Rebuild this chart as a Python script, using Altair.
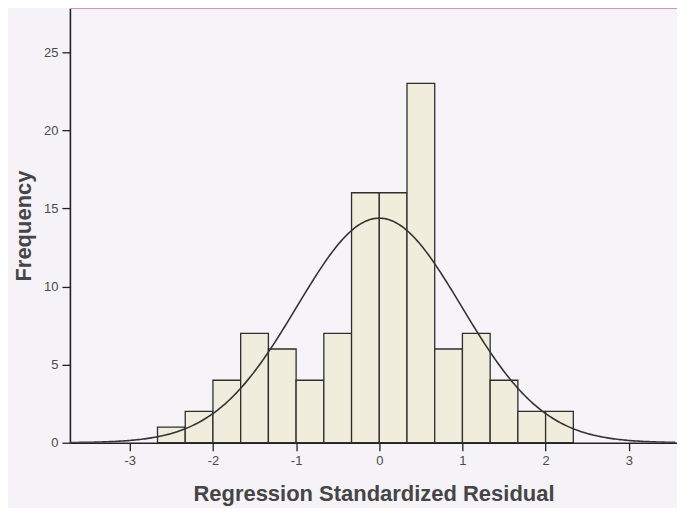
import altair as alt
import pandas as pd

# Histogram bins (width 1/3) and frequencies
bin_starts = [-8/3, -7/3, -2.0, -5/3, -4/3, -1.0, -2/3, -1/3, 0.0, 1/3, 2/3, 1.0, 4/3, 5/3, 2.0]
bin_ends   = [-7/3, -2.0, -5/3, -4/3, -1.0, -2/3, -1/3, 0.0, 1/3, 2/3, 1.0, 4/3, 5/3, 2.0, 7/3]
frequencies = [1, 2, 4, 7, 6, 4, 7, 16, 16, 23, 6, 7, 4, 2, 2]

# Normal curve parameters (as SPSS draws it)
curve_mean = 0.0
curve_sd = 0.99
curve_n = 107
bin_width = 1/3

x_ticks = [-3, -2, -1, 0, 1, 2, 3]
y_ticks = [0, 5, 10, 15, 20, 25]

X_DOMAIN = [-3.72, 3.58]
Y_DOMAIN = [0, 27.8]
W, H = 608, 435

bars_df = pd.DataFrame({"start": bin_starts, "end": bin_ends, "freq": frequencies})

FONT = "Liberation Sans"
HYPHEN_LABEL = "datum.value < 0 ? '-' + abs(datum.value) : '' + datum.value"

x_scale = alt.Scale(domain=X_DOMAIN, nice=False, zero=False)
y_scale = alt.Scale(domain=Y_DOMAIN, nice=False)

bars = alt.Chart(bars_df).mark_rect(
    fill="#f1eddd", stroke="#2e2e2e", strokeWidth=1.3
).encode(
    x=alt.X("start:Q", scale=x_scale,
            axis=alt.Axis(values=x_ticks, title="Regression Standardized Residual",
                          labelExpr=HYPHEN_LABEL,
                          grid=False, domainColor="#222", domainWidth=1.6,
                          tickColor="#222", tickSize=8, tickWidth=1.3,
                          labelColor="#4a4a4a", labelFontSize=13, labelFont=FONT,
                          labelPadding=4,
                          titleFont=FONT, titleFontSize=22, titleFontWeight="bold",
                          titleColor="#454545", titlePadding=16)),
    x2="end:Q",
    y=alt.Y("freq:Q", scale=y_scale,
            axis=alt.Axis(values=y_ticks, title="Frequency", grid=False,
                          domainColor="#222", domainWidth=1.6,
                          tickColor="#222", tickSize=8, tickWidth=1.3,
                          labelColor="#4a4a4a", labelFontSize=13, labelFont=FONT,
                          labelPadding=4,
                          titleFont=FONT, titleFontSize=22, titleFontWeight="bold",
                          titleColor="#454545", titlePadding=8)),
    y2=alt.datum(0),
)

curve = alt.Chart(alt.sequence(X_DOMAIN[0], X_DOMAIN[1], 0.02, as_="x")).transform_calculate(
    y=f"{curve_n}*{bin_width}*exp(-pow(datum.x-({curve_mean}),2)/(2*pow({curve_sd},2)))/({curve_sd}*sqrt(2*PI))"
).mark_line(color="#333333", strokeWidth=1.6, clip=True).encode(
    x=alt.X("x:Q", scale=x_scale),
    y=alt.Y("y:Q", scale=y_scale),
)

top_rule = alt.Chart().mark_rule(color="#d88fc4", strokeWidth=1.5).encode(
    x=alt.value(0), x2=alt.value(W), y=alt.value(0)
)

chart = alt.layer(bars, curve, top_rule).properties(
    width=W, height=H,
    background="#f5f3f7",
    autosize=alt.AutoSizeParams(type="none"),
    padding={"left": 62, "top": 0, "right": 0, "bottom": 65},
).configure_view(stroke=None, fill="#f6f4f8")

chart.save("out.html", embed_options={"renderer": "svg", "actions": False})
